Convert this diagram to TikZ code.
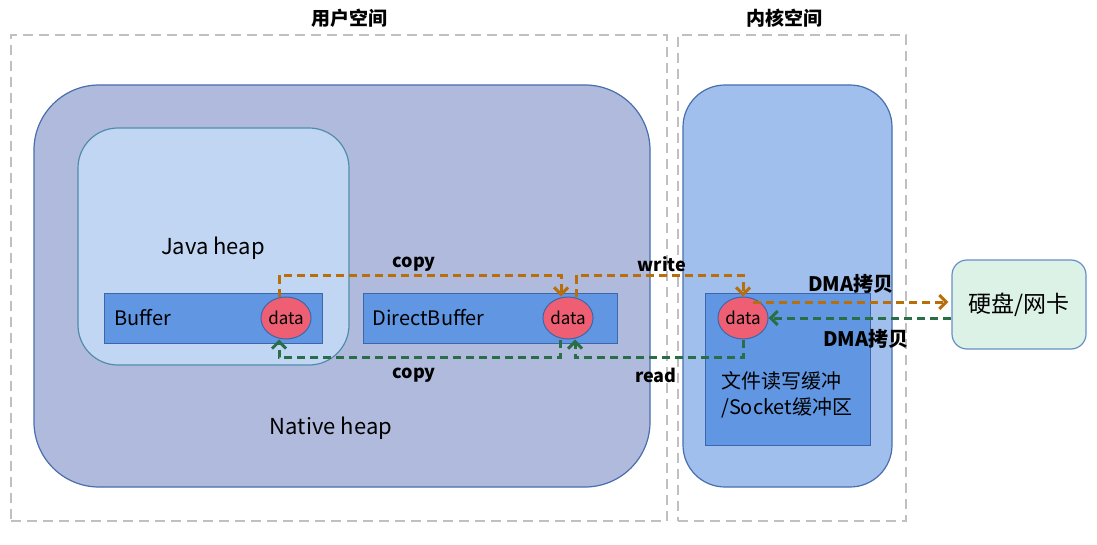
\documentclass[tikz,border=0pt]{standalone}
\usepackage{fontspec}
\setmainfont{Noto Sans CJK SC}
\usetikzlibrary{arrows.meta,shapes.geometric}
\definecolor{spacegray}{RGB}{192,192,192}
\definecolor{nativefill}{RGB}{176,186,220}
\definecolor{nativeline}{RGB}{72,110,172}
\definecolor{javafill}{RGB}{192,214,243}
\definecolor{javaline}{RGB}{82,140,172}
\definecolor{kernelfill}{RGB}{160,191,236}
\definecolor{bufferfill}{RGB}{96,150,226}
\definecolor{bufferline}{RGB}{62,102,172}
\definecolor{datafill}{RGB}{238,95,115}
\definecolor{diskfill}{RGB}{220,242,230}
\definecolor{diskline}{RGB}{104,142,200}
\definecolor{copyorange}{RGB}{184,110,10}
\definecolor{copygreen}{RGB}{42,110,72}

\begin{document}
\begin{tikzpicture}[x=1pt, y=-1pt,
    space/.style={draw=spacegray, line width=2pt, dash pattern=on 10pt off 6pt, inner sep=0pt},
    heap/.style={line width=1.2pt, inner sep=0pt},
    buf/.style={draw=bufferline, fill=bufferfill, line width=1pt, inner sep=0pt},
    datanode/.style={ellipse, draw=bufferline, fill=datafill, line width=1pt, inner sep=0pt,
        minimum width=44pt, minimum height=42pt, font=\fontsize{17}{20}\selectfont},
    flow/.style={line width=3pt, dash pattern=on 8pt off 5pt,
        -{Straight Barb[length=7pt, width=14pt, line width=3pt]}},
    flowlabel/.style={font=\bfseries\fontsize{18}{21}\selectfont},
    title/.style={font=\bfseries\fontsize{19}{22}\selectfont}]
    \useasboundingbox (0,0) rectangle (1097,545);

    % espacios
    \node[space, minimum width=656pt, minimum height=486pt] (userspace) at (339,278) {};
    \node[space, minimum width=228pt, minimum height=486pt] (kernelspace) at (792,278) {};
    \node[title] (usertitle) at (349,18) {用户空间};
    \node[title] (kerneltitle) at (784,18) {内核空间};

    % heaps
    \node[heap, draw=nativeline, fill=nativefill, rounded corners=65pt,
        minimum width=616pt, minimum height=402pt] (nativeheap) at (342,286) {};
    \node[heap, draw=javaline, fill=javafill, rounded corners=40pt,
        minimum width=271pt, minimum height=237pt] (javaheap) at (213.5,246.5) {};
    \node[heap, draw=nativeline, fill=kernelfill, rounded corners=42pt,
        minimum width=209pt, minimum height=402pt] (kernelheap) at (787.5,286) {};
    \node[font=\fontsize{22}{26}\selectfont] (javalabel) at (213,248) {Java heap};
    \node[font=\fontsize{22}{26}\selectfont] (nativelabel) at (331,428) {Native heap};

    % buffers
    \node[buf, minimum width=218pt, minimum height=50pt] (buffer) at (213,318) {};
    \node[buf, minimum width=254pt, minimum height=50pt] (directbuffer) at (490,318) {};
    \node[buf, minimum width=165pt, minimum height=152pt] (kernelbuffer) at (787.5,369) {};
    \node[anchor=west, font=\fontsize{20}{24}\selectfont] (bufferlabel) at (111,318) {Buffer};
    \node[anchor=west, font=\fontsize{20}{24}\selectfont] (directlabel) at (369,318) {DirectBuffer};
    \node[anchor=north west, align=left, inner sep=0pt, font=\fontsize{20}{26}\selectfont]
        (kernellabel) at (721,371) {文件读写缓冲\\/Socket缓冲区};

    % data
    \node[datanode] (bufdata) at (286,318) {data};
    \node[datanode] (dirdata) at (568,318) {data};
    \node[datanode] (kdata) at (743,318) {data};

    % disco / red
    \node[draw=diskline, fill=diskfill, line width=1.2pt, rounded corners=15pt,
        minimum width=134pt, minimum height=89pt, font=\fontsize{23}{27}\selectfont]
        (disk) at (1019,304.5) {硬盘/网卡};

    % copias
    \draw[flow, copyorange] ([xshift=-7pt]bufdata.north) -- ++(0,-21) -| ([xshift=-7pt]dirdata.north);
    \draw[flow, copyorange] ([xshift=8pt]dirdata.north) -- ++(0,-21) -| (kdata.north);
    \draw[flow, copygreen] ([xshift=-8pt]dirdata.south) -- ++(0,18) -| ([xshift=-7pt]bufdata.south);
    \draw[flow, copygreen] (kdata.south) -- ++(0,18) -| ([xshift=7pt]dirdata.south);

    % DMA
    \coordinate (dmaout) at ([xshift=10pt,yshift=16pt]kdata.center);
    \draw[flow, copyorange, shorten >=3pt] (dmaout) -- (disk.west |- dmaout);
    \draw[flow, copygreen] (disk.west |- kdata.east) -- (kdata.east);

    % etiquetas
    \node[flowlabel] (copyup) at (414,264) {copy};
    \node[flowlabel] (copydown) at (414,375) {copy};
    \node[flowlabel] (writelabel) at (662,264) {write};
    \node[flowlabel] (readlabel) at (656,375) {read};
    \node[flowlabel, font=\bfseries\fontsize{20}{24}\selectfont] (dmaup) at (851,284) {DMA拷贝};
    \node[flowlabel, font=\bfseries\fontsize{20}{24}\selectfont] (dmadown) at (866,339) {DMA拷贝};
\end{tikzpicture}
\end{document}
